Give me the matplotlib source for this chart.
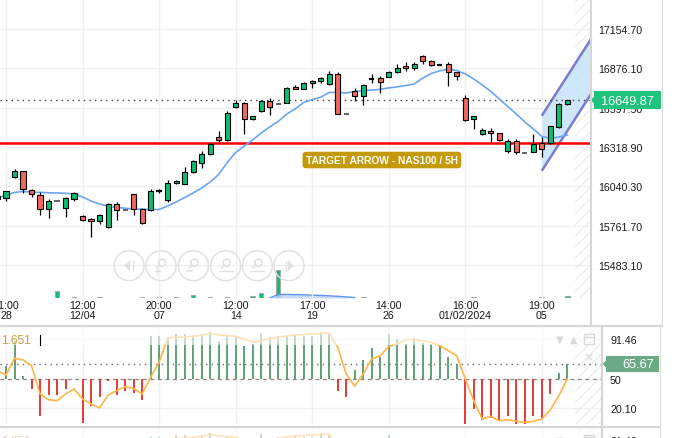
import numpy as np
import matplotlib
matplotlib.use("Agg")
import matplotlib.pyplot as plt
from matplotlib.patches import Rectangle, Circle, Polygon

plt.rcParams['font.family'] = ['Liberation Sans', 'DejaVu Sans']
plt.rcParams['hatch.linewidth'] = 0.8

# ---------------- data ----------------
candle_idx = np.arange(-1, 67)
opens = [15950, 15955, 16103, 16146, 16015, 15976, 15877, 15938, 15884, 15952,
         15827, 15808, 15792, 15753, 15912, 15870, 15983, 15877, 15872, 16004,
         15945, 16061, 16058, 16139, 16203, 16266, 16387, 16366, 16600, 16628,
         16515, 16576, 16642, 16623, 16628, 16741, 16727, 16770, 16784, 16763,
         16834, 16550, 16713, 16678, 16800, 16805, 16812, 16848, 16890, 16876,
         16961, 16926, 16902, 16907, 16848, 16664, 16515, 16408, 16431, 16415,
         16288, 16359, 16274, 16281, 16345, 16345, 16458, 16621]
highs = [15972, 16008, 16162, 16148, 16020, 15997, 15950, 15938, 15962, 16001,
         15836, 15817, 15843, 15921, 15926, 15870, 15985, 15884, 16020, 16020,
         16086, 16084, 16174, 16226, 16290, 16347, 16430, 16576, 16654, 16635,
         16540, 16654, 16664, 16623, 16746, 16761, 16777, 16795, 16812, 16855,
         16848, 16550, 16734, 16763, 16834, 16819, 16855, 16905, 16919, 16919,
         16968, 16933, 16906, 16919, 16848, 16687, 16538, 16451, 16451, 16417,
         16373, 16373, 16274, 16408, 16387, 16467, 16630, 16652]
lows = [15948, 15938, 16098, 15992, 15966, 15838, 15817, 15938, 15824, 15938,
        15792, 15682, 15772, 15744, 15799, 15870, 15834, 15770, 15865, 15989,
        15926, 16056, 16054, 16134, 16167, 16265, 16352, 16364, 16597, 16413,
        16510, 16569, 16547, 16623, 16627, 16727, 16727, 16739, 16774, 16760,
        16550, 16550, 16642, 16614, 16770, 16699, 16812, 16841, 16855, 16866,
        16905, 16890, 16896, 16753, 16795, 16505, 16446, 16403, 16352, 16359,
        16278, 16267, 16274, 16280, 16245, 16340, 16451, 16616]
closes = [15970, 16004, 16146, 16020, 15983, 15877, 15938, 15938, 15955, 15990,
          15803, 15792, 15834, 15912, 15870, 15870, 15877, 15777, 16004, 16004,
          16061, 16075, 16139, 16217, 16266, 16337, 16366, 16557, 16628, 16515,
          16536, 16642, 16600, 16623, 16740, 16727, 16770, 16784, 16805, 16834,
          16550, 16550, 16678, 16756, 16800, 16777, 16848, 16876, 16876, 16905,
          16926, 16897, 16902, 16848, 16819, 16512, 16536, 16441, 16415, 16366,
          16359, 16281, 16274, 16337, 16302, 16465, 16621, 16649.87]
ma_line = [15957, 15978, 15996, 16003, 15999, 15996, 15994, 15992, 15990, 15985,
           15964, 15935, 15914, 15900, 15891, 15884, 15879, 15877, 15875, 15875,
           15900, 15928, 15960, 15992, 16028, 16070, 16123, 16208, 16279, 16325,
           16368, 16418, 16460, 16499, 16552, 16588, 16634, 16655, 16671, 16705,
           16705, 16701, 16712, 16719, 16722, 16727, 16737, 16745, 16754, 16765,
           16807, 16839, 16859, 16868, 16861, 16836, 16800, 16758, 16712, 16659,
           16605, 16552, 16496, 16446, 16393, 16380, 16389, 16403]
volume = [0, 0, 0, 0, 0, 0, 0, 7.3, 0, 1, 0, 0, 0.6, 0, 0, 0, 0, 1, 0, 1,
          0, 0.6, 0, 3, 0, 1, 0, 1, 0, 0, 2.5, 5, 0, 28, 0, 0, 0, 0, 0, 0,
          0, 0, 0, 0.6, 0, 0, 0, 0, 0, 0, 0, 0, 0, 0, 0, 0, 1, 0, 0, 0,
          0, 0, 0, 0, 1, 0, 0, 2]
vol_ma_idx = np.arange(31, 42)
vol_ma = [0, 3.5, 3.6, 3.4, 3.2, 2.9, 2.6, 2.2, 1.7, 1.1, 0.4]

osc_hist = [50, 63.9, 90, 53, 39.5, 11, 33.6, 33.6, 39.5, 49.5,
            4.3, 22.1, 31.5, 47.6, 33.6, 37.8, 35.7, 28.4, 95.3, 95.3,
            93.6, 97, 97, 95.3, 97, 98.8, 90, 95.3, 94.6, 84.8,
            86.6, 98.1, 93.6, 95.3, 94.6, 97, 95.3, 94.6, 98.8, 97,
            37.8, 30.9, 59, 69.5, 82.2, 72.7, 97, 91.5, 86.6, 93,
            88, 86.6, 85.5, 72.7, 65.7, 3, 18.6, 7, 9, 6.4,
            11.6, 1.9, 1.9, 11.6, 9, 34.3, 56.3, 65.67]
osc_line = [58.4, 54.2, 71.6, 69.9, 63.9, 34.3, 28.4, 27.3, 34.3, 39.5,
            29.1, 23.9, 19.7, 33.3, 37.8, 42, 40.3, 34.3, 51.8, 67.5,
            92.8, 93.6, 93.6, 94.9, 95.5, 97.8, 96, 95.2, 94.6, 91.8,
            88.4, 90.2, 91.8, 93.6, 94.9, 96, 96.3, 97, 97.5, 97.8,
            83, 55.2, 42.4, 55.2, 70.9, 74.3, 83.8, 86.6, 91.1, 91.1,
            90, 88.4, 84.8, 79.6, 74.3, 50, 27.3, 8.2, 11, 6.4,
            7.5, 5.8, 4.8, 5.8, 8.2, 17.6, 32.5, 50]

price_ticks = [15483.10, 15761.70, 16040.30, 16318.90, 16597.50, 16876.10, 17154.70]
osc_ticks = [20.10, 50, 91.46]
time_tick_idx = [0, 9, 18, 27, 36, 45, 54, 63]
time_tick_labels = ["11:00\n28", "12:00\n12/04", "20:00\n07", "12:00\n14",
                    "17:00\n19", "14:00\n26", "16:00\n01/02/2024", "19:00\n05"]
target_level = 16347
label_text = "TARGET ARROW - NAS100 / 5H"
label_pos = (44.2, 16226)
channel_x = [63, 69]
channel_upper = [16540, 17104]
channel_lower = [16150, 16714]
osc_name_value = "1.651"

opens = np.array(opens, float); highs = np.array(highs, float)
lows = np.array(lows, float); closes = np.array(closes, float)
volume = np.array(volume, float)
osc_hist = np.array(osc_hist, float); osc_line = np.array(osc_line, float)

# ---------------- layout ----------------
W, H = 699, 439
fig = plt.figure(figsize=(W / 100, H / 100), dpi=100)
fig.patch.set_facecolor('white')

def px_axes(x0, y0, x1, y1):
    return fig.add_axes([x0 / W, 1 - y1 / H, (x1 - x0) / W, (y1 - y0) / H])

STEP = 8.505
X0 = 6.0
def xl(x0px, x1px):
    return ((x0px - X0) / STEP, (x1px - X0) / STEP)

GREEN = '#0cbe73'
RED = '#f2675e'
GRID = '#f0f0f0'
HATCH = '#ebebeb'
LBL = 7.7

# volume axes (behind)
axv = px_axes(0, 0, 590, 299)
ax = px_axes(0, 0, 590, 299)
axv.set_zorder(0); ax.set_zorder(1)
ax.patch.set_visible(False)
axv.patch.set_visible(False)
axv.axis('off')
ax.set_xlim(*xl(0, 590)); axv.set_xlim(*xl(0, 590))
ax.set_ylim(15247.8, 17367.4)
axv.set_ylim(0, 299)

nz = volume > 0
axv.bar(candle_idx[nz], volume[nz], width=0.55, color=GREEN, edgecolor='#a8a8a8', linewidth=0.8)
axv.fill_between(vol_ma_idx, 0, vol_ma, color='#b9d3f7', alpha=0.8, lw=0)
axv.plot(vol_ma_idx, vol_ma, color='#5f95e8', lw=1)

for s in ax.spines.values():
    s.set_visible(False)
ax.grid(True, color=GRID, lw=1, zorder=0)
ax.set_axisbelow(True)
ax.yaxis.tick_right()
ax.set_yticks(price_ticks)
ax.set_yticklabels([f"{v:.2f}" for v in price_ticks])
ax.tick_params(axis='y', length=0, pad=5.8, labelsize=LBL, labelcolor='#1a1a1a')
ax.set_xticks(time_tick_idx)
ax.set_xticklabels(time_tick_labels)
ax.tick_params(axis='x', length=0, pad=1.8, labelsize=LBL, labelcolor='#1a1a1a')
for t in ax.get_xticklabels():
    t.set_linespacing(0.95)

# hatched future region
ax.axvspan(66.85, 80, facecolor='none', edgecolor=HATCH, hatch='///', lw=0, zorder=0.5)

# channel
ax.fill_between(channel_x, channel_lower, channel_upper, color='#c6e3fa', alpha=0.85, lw=0, zorder=1)
ax.plot(channel_x, channel_upper, color='#7c7ccb', lw=1.8, zorder=1.2, solid_capstyle='butt')
ax.plot(channel_x, channel_lower, color='#7c7ccb', lw=1.8, zorder=1.2, solid_capstyle='butt')

# target line
ax.axhline(target_level, color='#ff0000', lw=1.8, zorder=1.5)
# last price dotted
ax.axhline(closes[-1], color='#444444', lw=1, ls=(0, (1, 3)), zorder=1.5)
# MA
ax.plot(candle_idx, ma_line, color='#6aa5f4', lw=1.2, zorder=2)

# candles
flat = highs == lows
cross = (opens == closes) & ~flat
normal = ~(flat | cross)
up = closes >= opens
col = np.where(up, GREEN, RED)
ax.vlines(candle_idx[~flat], lows[~flat], highs[~flat], color='black', lw=0.9, zorder=3)
bot = np.minimum(opens, closes)
hgt = np.abs(closes - opens)
ax.bar(candle_idx[normal], hgt[normal], bottom=bot[normal], width=0.6,
       color=col[normal], edgecolor='black', linewidth=0.8, zorder=4)
ax.hlines(closes[cross], candle_idx[cross] - 0.32, candle_idx[cross] + 0.32, color='black', lw=1.6, zorder=4)
ax.hlines(closes[flat], candle_idx[flat] - 0.3, candle_idx[flat] + 0.3, color='#555555', lw=1.3, zorder=4)

# target label
ax.text(label_pos[0], label_pos[1], label_text, ha='center', va='center', color='white',
        fontsize=7.4, fontweight='bold', zorder=6,
        bbox=dict(boxstyle='round,pad=0.32,rounding_size=0.35', fc='#c49a08', ec='none'))

# ---------------- oscillator panels ----------------
def draw_osc(a, faded_label):
    a.set_xlim(*xl(0, 602))
    a.set_ylim(2.98, 104.3)
    for s in a.spines.values():
        s.set_visible(False)
    a.patch.set_visible(False)
    a.grid(True, color=GRID, lw=1, zorder=0)
    a.set_axisbelow(True)
    a.set_xticks(time_tick_idx)
    a.set_xticklabels([])
    a.tick_params(axis='x', length=0)
    a.yaxis.tick_right()
    a.set_yticks(osc_ticks)
    a.set_yticklabels(["20.10", "50", "91.46"])
    a.tick_params(axis='y', length=0, pad=5.8, labelsize=LBL, labelcolor='#1a1a1a')
    a.axvspan(66.85, 80, facecolor='none', edgecolor=HATCH, hatch='///', lw=0, zorder=0.5)
    a.axhline(50, color='#8a8a8a', lw=0.9, ls=(0, (3, 3)), zorder=2)
    a.axhline(osc_hist[-1], color='#6a6a6a', lw=1, ls=(0, (1, 3)), zorder=2)
    pos = osc_hist >= 50
    a.vlines(candle_idx[pos], 50, osc_hist[pos], color='#55996b', lw=1.3, zorder=3)
    a.vlines(candle_idx[~pos], osc_hist[~pos], 50, color='#e52a2a', lw=1.3, zorder=3)
    a.plot(candle_idx, osc_line, color='#ffb548', lw=1.2, zorder=4)
    a.add_patch(Rectangle((0, 1 - 18 / 97), 1, 18 / 97, transform=a.transAxes,
                          fc='white', alpha=0.62, ec='none', zorder=5))
    a.text(1 / 602, 1 - 12.7 / 97, osc_name_value, transform=a.transAxes, ha='left', va='center',
           fontsize=8.6, color='#d39a46', alpha=0.45 if faded_label else 1, zorder=6)

ax2 = px_axes(0, 328, 602, 425)
draw_osc(ax2, False)
ax3 = px_axes(0, 429, 602, 526)
draw_osc(ax3, True)

# ---------------- overlay (UI chrome) ----------------
ov = fig.add_axes([0, 0, 1, 1])
ov.set_xlim(0, W); ov.set_ylim(H, 0)
ov.axis('off'); ov.patch.set_visible(False)
ov.set_zorder(10)
LC = '#d6d6d6'
ov.plot([0, 662], [327, 327], color=LC, lw=1.6)
ov.plot([0, 660], [428, 428], color=LC, lw=1.6)
ov.plot([590.5, 590.5], [0, 327], color=LC, lw=1.5)
ov.plot([662, 662], [0, 327], color='#dddddd', lw=0.8)
ov.plot([602, 602], [327, 439], color=LC, lw=1.5)
ov.plot([659.5, 659.5], [327, 439], color='#dddddd', lw=0.8)

# last price label
yd = ax.transData.transform((0, closes[-1]))[1]
yp = H - yd
ov.add_patch(Rectangle((594, yp - 9), 67, 18, fc='#1ec47b', ec='none'))
ov.add_patch(Polygon([[590.5, yp], [594.5, yp - 4], [594.5, yp + 4]], closed=True, fc='#1ec47b', ec='none'))
ov.text(627.5, yp + 0.5, f"{closes[-1]:.2f}", ha='center', va='center', color='white', fontsize=9.2)

# oscillator value label
yd2 = ax2.transData.transform((0, osc_hist[-1]))[1]
yp2 = H - yd2
ov.add_patch(Rectangle((606, yp2 - 8), 53, 16, fc='#6aaa84', ec='none'))
ov.add_patch(Polygon([[602.5, yp2], [606.5, yp2 - 4], [606.5, yp2 + 4]], closed=True, fc='#6aaa84', ec='none'))
ov.text(654, yp2 + 0.5, f"{osc_hist[-1]:.2f}", ha='right', va='center', color='white', fontsize=9.2)

# cursor bar in legend
ov.plot([40, 40], [336, 345.5], color='black', lw=0.8)

# panel icons
IC = '#d9d9d9'
for dy in (0, 101):
    ov.text(560, 340 + dy, "\u25BC", ha='center', va='center', color=IC, fontsize=7, family='DejaVu Sans')
    ov.text(574, 340 + dy, "\u25B2", ha='center', va='center', color=IC, fontsize=7, family='DejaVu Sans')
    ov.add_patch(Rectangle((584, 335 + dy), 10, 10, fc='none', ec=IC, lw=1))
    ov.plot([584, 594], [337.5 + dy, 337.5 + dy], color=IC, lw=1)
    ov.text(589, 358 + dy, "\u2715", ha='center', va='center', color=IC, fontsize=9, family='DejaVu Sans',
            fontweight='bold')

# navigation buttons
NC = '#e2e2e2'
centers = [129, 161, 193.3, 225.7, 257.3, 289]
cy = 266.7
for i, cx in enumerate(centers):
    ov.add_patch(Circle((cx, cy), 15, fc='none', ec=NC, lw=1.1))
    if i == 0:
        ov.add_patch(Polygon([[124, cy], [130, cy - 5.5], [130, cy + 5.5]], fc=NC, ec='none'))
        ov.plot([132.5, 132.5], [cy - 5, cy + 5], color=NC, lw=1)
    elif i == 5:
        ov.add_patch(Polygon([[cx + 5, cy], [cx - 1, cy - 5.5], [cx - 1, cy + 5.5]], fc=NC, ec='none'))
        ov.plot([cx - 3.5, cx - 3.5], [cy - 5, cy + 5], color=NC, lw=1)
    else:
        ov.add_patch(Circle((cx + 1, cy - 3), 3.5, fc='none', ec=NC, lw=1.3))
        ov.plot([cx - 1.5, cx - 4], [cy - 0.5, cy + 2], color=NC, lw=1.3)
        if i == 1:
            ov.plot([cx - 4, cx - 4], [cy + 3, cy + 8], color=NC, lw=1)
            ov.plot([cx - 6.5, cx - 1.5], [cy + 5.5, cy + 5.5], color=NC, lw=1)
        elif i == 2:
            ov.plot([cx - 6.5, cx - 1.5], [cy + 5.5, cy + 5.5], color=NC, lw=1.2)
        else:
            ov.plot([cx - 7, cx + 7], [cy + 5.5, cy + 5.5], color=NC, lw=1)

fig.savefig("out.png", dpi=100, facecolor='white')
